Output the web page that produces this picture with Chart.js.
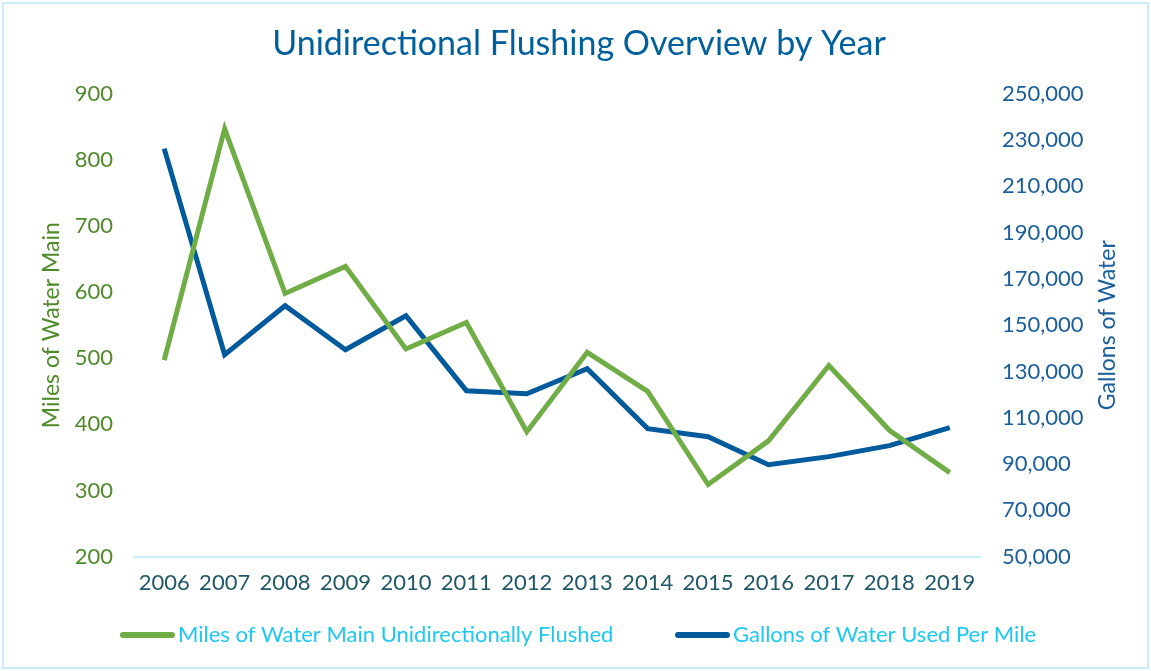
<!DOCTYPE html>
<html>
<head>
<meta charset="utf-8">
<script src="https://cdn.jsdelivr.net/npm/chart.js@4/dist/chart.umd.min.js"></script>
<style>
    body { margin: 0; background: #fff; }
    #wrap { width: 1151px; height: 671px; }
</style>
</head>
<body>
<div id="wrap"><canvas id="flushing" width="1151" height="671"></canvas></div>
<script>
const years = ["2006", "2007", "2008", "2009", "2010", "2011", "2012", "2013", "2014", "2015", "2016", "2017", "2018", "2019"];
const milesFlushed = [497, 847, 598, 639, 514, 554, 389, 509, 450, 309, 375, 489, 391, 327];
const gallonsPerMile = [226300, 137300, 158400, 139400, 154100, 121700, 120400, 131200, 105300, 101800, 89700, 93200, 97950, 105700];

const fuente = "'Lato', sans-serif";
const verde = "#70ad47";
const azul = "#005a9c";
const colorDerecho = "#1a5e9a";

// marco celeste alrededor del gráfico
const marco = {
    id: "marco",
    beforeDraw(chart) {
        const ctx = chart.ctx;
        ctx.save();
        ctx.strokeStyle = "#c9eef8";
        ctx.lineWidth = 2;
        ctx.strokeRect(3, 3, chart.width - 6, chart.height - 6);
        ctx.restore();
    },
};

// título del eje derecho (de abajo hacia arriba) y leyenda con muestras de línea
const extras = {
    id: "extras",
    afterDraw(chart) {
        const ctx = chart.ctx;
        const area = chart.chartArea;
        ctx.save();
        ctx.translate(1108, (area.top + area.bottom) / 2);
        ctx.rotate(-Math.PI / 2);
        ctx.font = "23px " + fuente;
        ctx.fillStyle = colorDerecho;
        ctx.textAlign = "center";
        ctx.textBaseline = "middle";
        ctx.fillText("Gallons of Water", 0, 0);
        ctx.restore();

        const posiciones = [120, 675];
        ctx.save();
        ctx.font = "22px " + fuente;
        ctx.textBaseline = "middle";
        chart.data.datasets.forEach((ds, i) => {
            const x = posiciones[i];
            const y = 635;
            ctx.strokeStyle = ds.borderColor;
            ctx.lineWidth = 6;
            ctx.lineCap = "round";
            ctx.beginPath();
            ctx.moveTo(x + 3, y);
            ctx.lineTo(x + 52, y);
            ctx.stroke();
            ctx.fillStyle = "#1ec8f0";
            ctx.fillText(ds.label, x + 58, y);
        });
        ctx.restore();
    },
};

new Chart(document.getElementById("flushing"), {
    type: "line",
    data: {
        labels: years,
        datasets: [
            {
                label: "Miles of Water Main Unidirectionally Flushed",
                data: milesFlushed,
                borderColor: verde,
                backgroundColor: verde,
                borderWidth: 5,
                pointRadius: 0,
                tension: 0,
                yAxisID: "y",
            },
            {
                label: "Gallons of Water Used Per Mile",
                data: gallonsPerMile,
                borderColor: azul,
                backgroundColor: azul,
                borderWidth: 5,
                pointRadius: 0,
                tension: 0,
                yAxisID: "y2",
            },
        ],
    },
    plugins: [marco, extras],
    options: {
        responsive: false,
        animation: false,
        layout: { padding: { left: 28, right: 21, top: 10, bottom: 62 } },
        scales: {
            x: {
                offset: true,
                grid: { display: false, drawTicks: false },
                border: { color: "#c9eef8", width: 2 },
                ticks: { font: { family: fuente, size: 22 }, color: "#215868", padding: 13, maxRotation: 0 },
            },
            y: {
                position: "left",
                min: 200,
                max: 900,
                grid: { display: false, drawTicks: false },
                border: { display: false },
                ticks: { stepSize: 100, font: { family: fuente, size: 22 }, color: "#4f8a2b", padding: 21 },
                title: { display: true, text: "Miles of Water Main", font: { family: fuente, size: 23 }, color: "#4f8a2b", padding: { top: 10, bottom: 0 } },
                afterFit(scale) { scale.width = 106; },
            },
            y2: {
                position: "right",
                min: 50000,
                max: 250000,
                grid: { display: false, drawTicks: false },
                border: { display: false },
                ticks: {
                    stepSize: 20000,
                    font: { family: fuente, size: 22 },
                    color: colorDerecho,
                    padding: 22,
                    callback: function (value) {
                        return value.toLocaleString("en-US");
                    },
                },
                afterFit(scale) { scale.width = 150; },
            },
        },
        plugins: {
            title: {
                display: true,
                text: "Unidirectional Flushing Overview by Year",
                font: { family: fuente, size: 34, weight: "normal" },
                color: "#00609c",
                padding: { top: 14, bottom: 29 },
            },
            legend: { display: false },
            tooltip: { enabled: false },
        },
    },
});
</script>
</body>
</html>
